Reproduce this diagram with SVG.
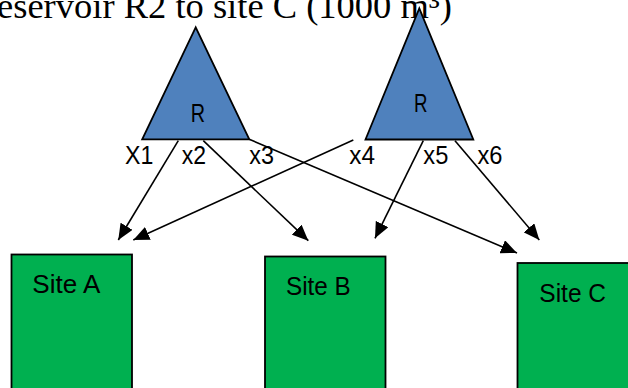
<svg xmlns="http://www.w3.org/2000/svg" width="628" height="388" viewBox="0 0 628 388">
<style>
.title{font-family:"Liberation Serif","Times New Roman",serif;font-size:36.5px;fill:#000}
.lbl{font-family:"Liberation Sans",Arial,sans-serif;font-size:26px;fill:#000}
.tri{fill:#4F81BD;stroke:#000;stroke-width:1.8;stroke-linejoin:miter}
.site{fill:#00B050;stroke:#000;stroke-width:1.8}
.conn{stroke:#000;stroke-width:1.6;fill:none}
</style>
<defs>
<marker id="ah" markerUnits="userSpaceOnUse" markerWidth="17" markerHeight="14" refX="16" refY="7" orient="auto">
<path d="M0,0 L16,7 L0,14 z" fill="#000"/>
</marker>
</defs>
<rect width="628" height="388" fill="#fff"/>
<text class="title" x="-3" y="17.5">eservoir R2 to site C (1000 m³)</text>
<g id="reservoir1">
<polygon class="tri" points="195.7,27.3 142.2,139.3 249.3,139.3"/>
<text class="lbl" x="190.7" y="121.7" textLength="14.3" lengthAdjust="spacingAndGlyphs">R</text>
</g>
<g id="reservoir2">
<polygon class="tri" points="419.3,8.3 365.5,139.5 473.3,139.5"/>
<text class="lbl" x="414" y="112" textLength="13.5" lengthAdjust="spacingAndGlyphs">R</text>
</g>
<g id="siteA">
<rect class="site" x="11.5" y="254.5" width="120.5" height="140"/>
<text class="lbl" x="32.3" y="292.7" textLength="68" lengthAdjust="spacingAndGlyphs">Site A</text>
</g>
<g id="siteB">
<rect class="site" x="265" y="256.5" width="120.5" height="140"/>
<text class="lbl" x="286" y="295" textLength="64.7" lengthAdjust="spacingAndGlyphs">Site B</text>
</g>
<g id="siteC">
<rect class="site" x="517.5" y="263" width="120.5" height="140"/>
<text class="lbl" x="539.3" y="301.7" textLength="66.7" lengthAdjust="spacingAndGlyphs">Site C</text>
</g>
<g id="connectors">
<line class="conn" x1="178.3" y1="140.7" x2="118.3" y2="240" marker-end="url(#ah)"/>
<line class="conn" x1="203.3" y1="140.7" x2="308.3" y2="240.7" marker-end="url(#ah)"/>
<line class="conn" x1="249.3" y1="139.3" x2="517" y2="253" marker-end="url(#ah)"/>
<line class="conn" x1="353.3" y1="140" x2="133.3" y2="240" marker-end="url(#ah)"/>
<line class="conn" x1="423.3" y1="140.7" x2="375" y2="238.3" marker-end="url(#ah)"/>
<line class="conn" x1="455" y1="140.7" x2="539.3" y2="240" marker-end="url(#ah)"/>
</g>
<g id="labels">
<text class="lbl" x="125" y="164" textLength="28.3" lengthAdjust="spacingAndGlyphs">X1</text>
<text class="lbl" x="181.7" y="164" textLength="24.3" lengthAdjust="spacingAndGlyphs">x2</text>
<text class="lbl" x="249.3" y="164" textLength="24.7" lengthAdjust="spacingAndGlyphs">x3</text>
<text class="lbl" x="349.3" y="164" textLength="25.7" lengthAdjust="spacingAndGlyphs">x4</text>
<text class="lbl" x="423.3" y="164" textLength="25" lengthAdjust="spacingAndGlyphs">x5</text>
<text class="lbl" x="477.5" y="164" textLength="25" lengthAdjust="spacingAndGlyphs">x6</text>
</g>
</svg>
